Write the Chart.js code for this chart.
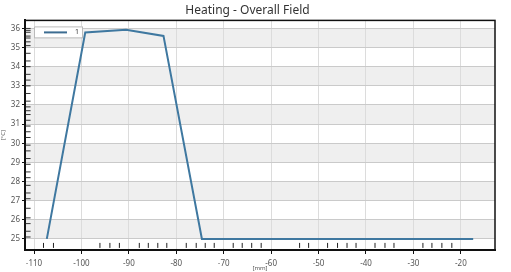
<!DOCTYPE html>
<html>
<head>
<meta charset="utf-8">
<script src="https://cdn.jsdelivr.net/npm/chart.js@4.4.0/dist/chart.umd.min.js"></script>
<style>
  html, body { margin: 0; padding: 0; background: #fff; }
  #wrap { width: 511px; height: 272px; }
</style>
</head>
<body>
<div id="wrap"><canvas id="heat"></canvas></div>
<script>
// series (position in mm, temperature)
const xPos = [-107.3, -99.2, -90.6, -82.7, -74.6, -17.4]
const temps = [25, 35.79, 35.93, 35.61, 25, 25]
const seriesName = '1'

// rug marks along the axes
const xRug = [-108.0, -105.9, -96.1, -94.0, -92.0, -87.8, -85.9, -83.9, -82.0, -77.9, -75.8, -73.9, -72.0,
  -68.0, -66.1, -64.1, -62.1, -54.0, -52.1, -48.1, -46.0, -44.0, -42.1, -38.1, -36.0, -34.1,
  -28.0, -26.1, -24.0, -21.9]
const yRug = [25.1, 25.4, 25.8, 26.1, 26.6, 27.1, 27.4, 27.8, 28.2, 28.5, 28.9, 29.2, 29.6, 29.9,
  30.3, 30.6, 30.9, 31.2, 31.5, 31.7, 31.9, 32.2, 32.6, 33.0, 33.3, 33.6, 34.0, 34.3, 34.7,
  35.1, 35.3, 35.5, 35.6, 35.8, 35.9, 36.0]

// axis ticks
const xTicks = [-110, -100, -90, -80, -70, -60, -50, -40, -30, -20]
const yTicks = [25, 26, 27, 28, 29, 30, 31, 32, 33, 34, 35, 36]
// shaded rows
const bands = [[25, 26], [27, 28], [29, 30], [31, 32], [33, 34], [35, 36]]

const xMin = -111.9, xMax = -12.8, yMin = 24.42, yMax = 36.42

const bandPlugin = {
  id: 'bands',
  beforeDraw(chart) {
    const {ctx, chartArea, scales} = chart
    ctx.save()
    ctx.fillStyle = '#efefef'
    bands.forEach(b => {
      const top = scales.y.getPixelForValue(b[1])
      const bot = scales.y.getPixelForValue(b[0])
      ctx.fillRect(chartArea.left, top, chartArea.right - chartArea.left, bot - top)
    })
    ctx.restore()
  },
  afterDraw(chart) {
    const {ctx, chartArea} = chart
    ctx.save()
    // frame
    ctx.strokeStyle = '#111'
    ctx.lineWidth = 1.5
    ctx.strokeRect(chartArea.left, chartArea.top, chartArea.right - chartArea.left, chartArea.bottom - chartArea.top)
    // legend box
    const lx = chartArea.left + 9, ly = chartArea.top + 6
    ctx.fillStyle = '#fff'
    ctx.fillRect(lx, ly, 48, 11)
    ctx.strokeStyle = '#bbb'
    ctx.lineWidth = 1
    ctx.strokeRect(lx + 0.5, ly + 0.5, 48, 11)
    ctx.strokeStyle = '#3d6d92'
    ctx.lineWidth = 2
    ctx.beginPath()
    ctx.moveTo(lx + 10, ly + 6)
    ctx.lineTo(lx + 33, ly + 6)
    ctx.stroke()
    ctx.fillStyle = '#333'
    ctx.font = '7px "Noto Sans"'
    ctx.textBaseline = 'middle'
    ctx.fillText(seriesName, lx + 41, ly + 6)
    ctx.restore()
  }
}

new Chart(document.getElementById('heat'), {
  type: 'scatter',
  data: {
    datasets: [
      {
        label: seriesName,
        data: xPos.map((x, i) => ({x: x, y: temps[i]})),
        showLine: true,
        borderColor: '#3f78a0',
        borderWidth: 2,
        pointRadius: 0,
        tension: 0
      },
      {
        label: 'xrug',
        data: xRug.map(x => ({x: x, y: 24.66})),
        pointStyle: 'line',
        rotation: 90,
        pointRadius: 2.5,
        borderColor: '#222',
        borderWidth: 1,
        showLine: false
      },
      {
        label: 'yrug',
        data: yRug.map(y => ({x: -111.35, y: y})),
        pointStyle: 'line',
        rotation: 0,
        pointRadius: 3,
        borderColor: '#333',
        borderWidth: 1,
        showLine: false
      }
    ]
  },
  plugins: [bandPlugin],
  options: {
    responsive: true,
    maintainAspectRatio: false,
    animation: false,
    layout: {padding: {left: 0, right: 16, top: 0, bottom: 0}},
    plugins: {
      legend: {display: false},
      tooltip: {enabled: false},
      title: {
        display: true,
        text: 'Heating - Overall Field',
        color: '#333',
        font: {family: 'Noto Sans', size: 12, weight: 'normal'},
        padding: {top: 3, bottom: 3}
      }
    },
    scales: {
      x: {
        type: 'linear',
        min: xMin,
        max: xMax,
        afterBuildTicks: s => { s.ticks = xTicks.map(v => ({value: v})) },
        afterFit: s => { s.height = 22 },
        grid: {color: '#dcdcdc', tickColor: '#111', tickLength: 4, lineWidth: 1},
        border: {color: '#111', width: 2},
        ticks: {color: '#555', font: {family: 'Noto Sans', size: 8}, padding: 5, maxRotation: 0},
        title: {display: true, text: '[mm]', color: '#555', font: {family: 'Noto Sans', size: 6}, padding: 0}
      },
      y: {
        type: 'linear',
        min: yMin,
        max: yMax,
        afterBuildTicks: s => { s.ticks = yTicks.map(v => ({value: v})) },
        afterFit: s => { s.width = 25 },
        grid: {color: '#cacaca', tickColor: '#111', tickLength: 3, lineWidth: 1},
        border: {color: '#111', width: 2},
        ticks: {color: '#555', font: {family: 'Noto Sans', size: 8}, padding: 2},
        title: {display: true, text: '[°C]', color: '#555', font: {family: 'Noto Sans', size: 6}, padding: 0}
      }
    }
  }
})
</script>
</body>
</html>
